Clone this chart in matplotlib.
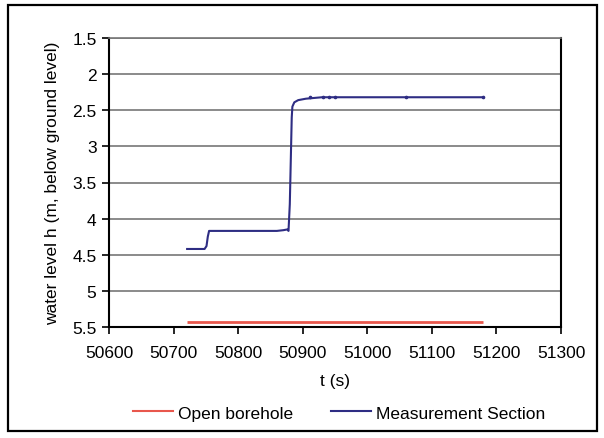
import matplotlib
matplotlib.use("Agg")
import matplotlib.pyplot as plt
from matplotlib.patches import Rectangle
from matplotlib.lines import Line2D

plt.rcParams['font.family'] = ['Liberation Sans', 'DejaVu Sans']

# Open borehole water level (constant)
t_open = [50721, 51179]
h_open = [5.43, 5.43]

# Measurement section water level
t_meas = [50721, 50748, 50751, 50753, 50755, 50800, 50860, 50870, 50876,
          50878, 50880, 50881, 50882, 50883, 50884, 50887, 50893, 50905,
          50930, 50945, 50960, 51060, 51179]
h_meas = [4.42, 4.42, 4.38, 4.25, 4.17, 4.17, 4.17, 4.16, 4.15,
          4.17, 3.80, 3.40, 3.00, 2.60, 2.45, 2.39, 2.36, 2.34,
          2.32, 2.32, 2.32, 2.32, 2.32]

x_ticks = [50600, 50700, 50800, 50900, 51000, 51100, 51200, 51300]
y_ticks = [1.5, 2, 2.5, 3, 3.5, 4, 4.5, 5, 5.5]

fig = plt.figure(figsize=(6.04, 4.39), dpi=100)
W, H = 604, 439
ax = fig.add_axes([109 / W, 1 - 328 / H, (561 - 109) / W, (328 - 39) / H])

# outer chart border
fig.patches.append(Rectangle((8 / W, 1 - 432 / H), (597 - 8) / W, (432 - 6) / H,
                             transform=fig.transFigure, fill=False,
                             edgecolor='black', linewidth=1.6))

red = '#e8574c'
navy = '#2e2d83'
ax.plot(t_open, h_open, color=red, linewidth=2.0, solid_capstyle='butt')
ax.plot(t_meas, h_meas, color=navy, linewidth=1.5)
# small scatter blips on the upper plateau
ax.plot([50912, 50932, 50940, 50950, 51060, 51179],
        [2.32, 2.32, 2.31, 2.32, 2.31, 2.32],
        linestyle='none', marker='o', markersize=1.6, color=navy)

ax.set_xlim(50600, 51300)
ax.set_ylim(5.5, 1.5)
ax.set_xticks(x_ticks)
ax.set_yticks(y_ticks)
ax.set_yticklabels([f'{v:g}' for v in y_ticks])
ax.set_xticklabels([str(v) for v in x_ticks])
ax.tick_params(axis='both', labelsize=12.5, direction='out', length=5,
               width=1.2, colors='black')
ax.tick_params(axis='x', pad=8)
ax.tick_params(axis='y', pad=4)
ax.grid(axis='y', color='#777777', linewidth=1.2)
ax.set_axisbelow(True)
for s in ['left', 'bottom', 'right']:
    ax.spines[s].set_color('black')
    ax.spines[s].set_linewidth(1.5)
ax.spines['top'].set_color('#777777')
ax.spines['top'].set_linewidth(1.2)

ax.set_xlabel('t (s)', fontsize=12.5, labelpad=9)
ax.set_ylabel('water level h (m, below ground level)', fontsize=12.5, labelpad=9)

handles = [Line2D([], [], color=red, linewidth=1.5),
           Line2D([], [], color=navy, linewidth=1.5)]
fig.legend(handles, ['Open borehole', 'Measurement Section'],
           loc='center', bbox_to_anchor=(339 / W, 1 - 414 / H), ncol=2,
           frameon=False, fontsize=12.5, handlelength=2.3, handletextpad=0.3,
           columnspacing=2.2)

fig.savefig('out.png', dpi=100)
